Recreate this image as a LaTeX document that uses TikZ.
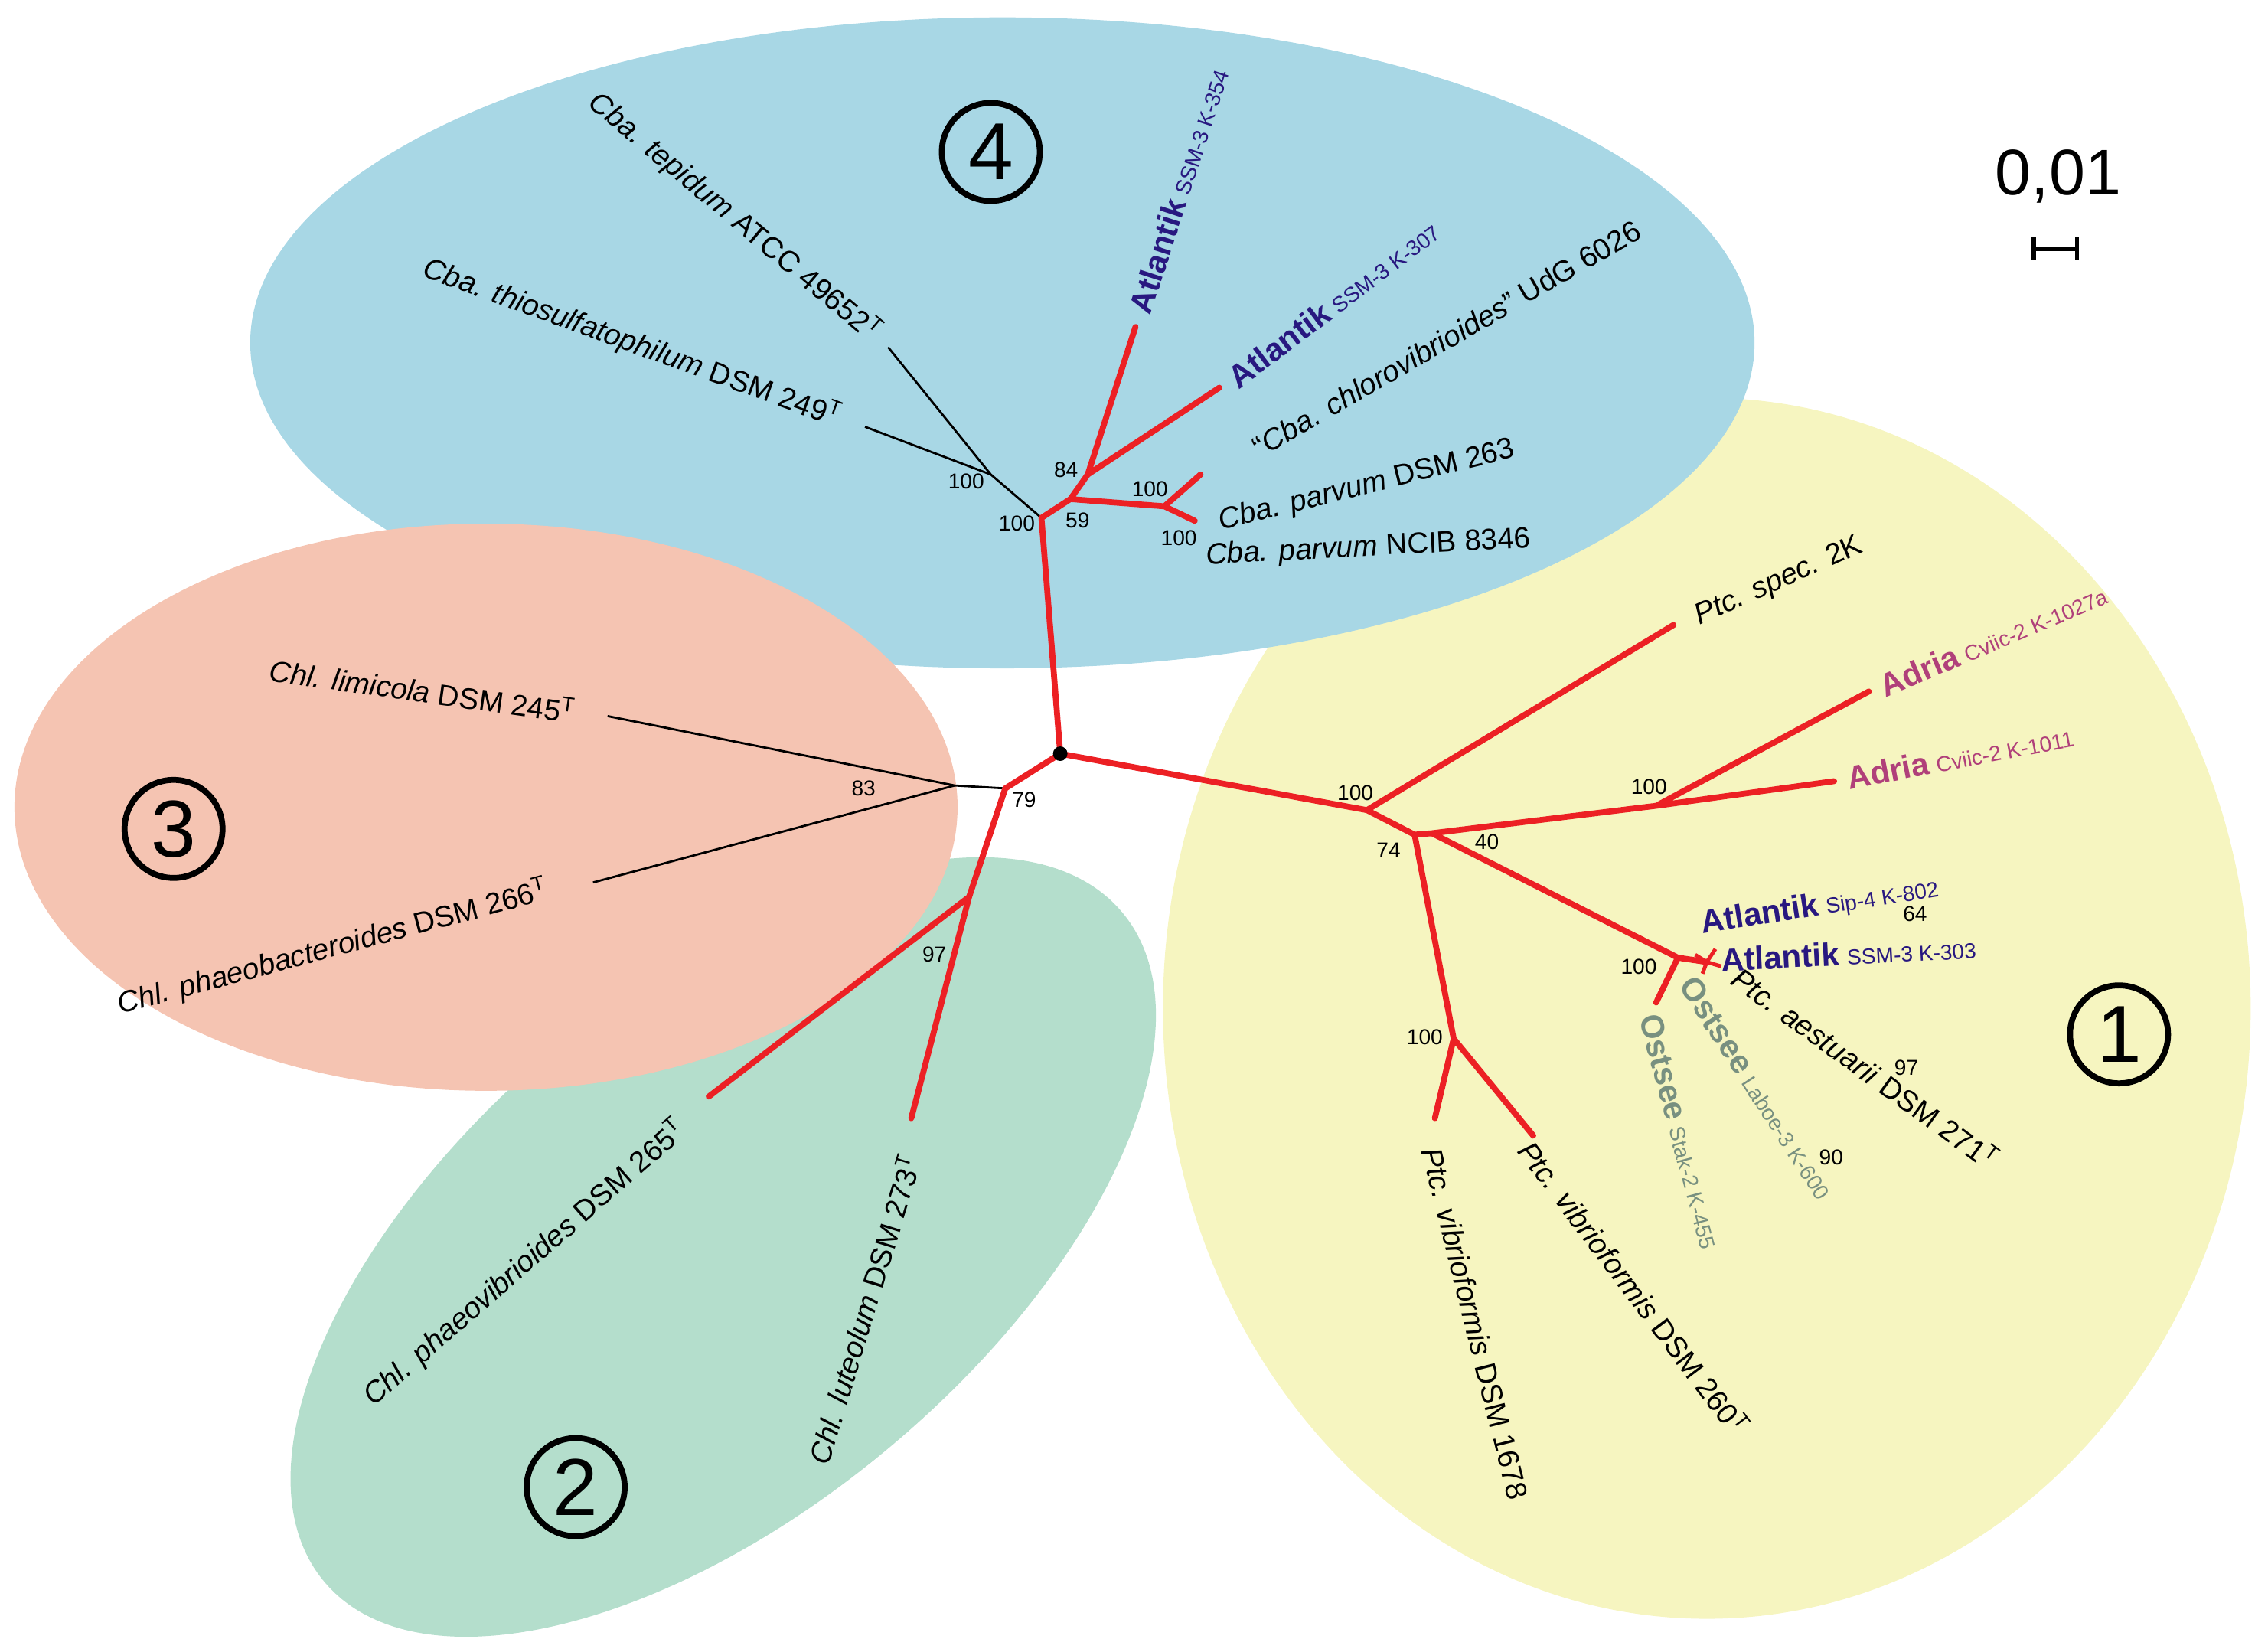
\documentclass[tikz,border=0pt]{standalone}
\usepackage{fontspec}
\setmainfont{Liberation Sans}
\definecolor{cblue}{RGB}{168,215,229}
\definecolor{cyel}{RGB}{246,245,192}
\definecolor{csal}{RGB}{245,196,178}
\definecolor{cgrn}{RGB}{180,222,204}
\definecolor{cred}{RGB}{236,32,36}
\definecolor{catl}{RGB}{40,24,128}
\definecolor{cadr}{RGB}{176,64,122}
\definecolor{cost}{RGB}{120,144,128}
\begin{document}
\begin{tikzpicture}[x=0.018897cm,y=-0.018897cm,
  red/.style={cred,line width=2.2pt},
  blk/.style={black,line width=0.8pt},
  lab/.style={font=\fontsize{11}{13}\selectfont,inner sep=0pt},
  bs/.style={font=\fontsize{8}{9}\selectfont,inner sep=0pt},
  ring/.style={draw,line width=2.2pt,circle,minimum size=1.28cm,inner sep=0pt,font=\fontsize{30}{32}\selectfont}]
\useasboundingbox (0,0) rectangle (1568,1132.5);
\fill[cyel] (1180,697) ellipse [x radius=376, y radius=422];
\fill[cblue] (693,237) ellipse [x radius=520, y radius=225];
\fill[cgrn,rotate around={40:(500,862)}] (500,862) ellipse [x radius=360, y radius=180];
\fill[csal] (336,558) ellipse [x radius=326, y radius=196];
% coordinates
\coordinate (root) at (733,521);
\coordinate (A) at (720,358);
\coordinate (P) at (740,345);
\coordinate (B) at (752,328);
\coordinate (C) at (805,350);
\coordinate (K) at (685,328);
\coordinate (tep) at (614,240);
\coordinate (thi) at (598,295);
\coordinate (at1) at (785,226);
\coordinate (at2) at (843,268);
\coordinate (pa1) at (830,328);
\coordinate (pa2) at (826,360);
\coordinate (L) at (695,545);
\coordinate (M) at (660,543);
\coordinate (lim) at (420,495);
\coordinate (pha) at (410,610);
\coordinate (N) at (670,620);
\coordinate (phv) at (490,758);
\coordinate (lut) at (630,773);
\coordinate (Q) at (945,560);
\coordinate (spc) at (1157,432);
\coordinate (R) at (978,577);
\coordinate (D) at (990,576);
\coordinate (S) at (1145,557);
\coordinate (ad1) at (1292,478);
\coordinate (ad2) at (1268,540);
\coordinate (E) at (1160,662);
\coordinate (F) at (1180,665);
\coordinate (os2) at (1145,693);
\coordinate (V) at (1005,718);
\coordinate (vi1) at (992,773);
\coordinate (vi2) at (1060,785);
% black branches
\draw[blk] (A)--(K) (K)--(tep) (K)--(thi) (L)--(M) (M)--(lim) (M)--(pha);
% red branches
\draw[red,line cap=round,line join=round] (root)--(A) (A)--(P) (P)--(B) (B)--(at1) (B)--(at2) (P)--(C) (C)--(pa1) (C)--(pa2)
 (root)--(L) (L)--(N) (N)--(phv) (N)--(lut)
 (root)--(Q) (Q)--(spc) (Q)--(R) (R)--(D) (D)--(S) (S)--(ad1) (S)--(ad2) (D)--(E) (E)--(F) (E)--(os2)
 (R)--(V) (V)--(vi1) (V)--(vi2);
\draw[cred,line width=1.4pt] (F)--(1186,656) (F)--(1190,668) (F)--(1177,673) (F)--(1172,660);
\fill (root) circle (5);
% bootstrap
\node[bs] (b1) at (668,333) {100};
\node[bs] (b2) at (703,362) {100};
\node[bs] (b3) at (745,360) {59};
\node[bs] (b4) at (737,325) {84};
\node[bs] (b5) at (795,338) {100};
\node[bs] (b6) at (815,372) {100};
\node[bs] (b7) at (597,545) {83};
\node[bs] (b8) at (708,553) {79};
\node[bs] (b9) at (646,660) {97};
\node[bs] (b10) at (937,548) {100};
\node[bs] (b11) at (960,588) {74};
\node[bs] (b12) at (1028,582) {40};
\node[bs] (b13) at (1140,544) {100};
\node[bs] (b14) at (1133,668) {100};
\node[bs] (b15) at (985,717) {100};
\node[bs] (b16) at (1324,632) {64};
\node[bs] (b17) at (1318,738) {97};
\node[bs] (b18) at (1266,800) {90};
% labels
\node[lab,rotate=-40] (l1) at (508,150) {\textit{Cba. tepidum} ATCC 49652\textsuperscript{T}};
\node[lab,rotate=-20] (l2) at (437,237) {\textit{Cba. thiosulfatophilum} DSM 249\textsuperscript{T}};
\node[inner sep=0pt,rotate=72] (l3) at (815,132) {\textcolor{catl}{\fontsize{12}{14}\selectfont\bfseries Atlantik} \textcolor{catl}{\fontsize{8}{9}\selectfont SSM-3 K-354}};
\node[inner sep=0pt,rotate=37] (l4) at (922,210) {\textcolor{catl}{\fontsize{12}{14}\selectfont\bfseries Atlantik} \textcolor{catl}{\fontsize{8}{9}\selectfont SSM-3 K-307}};
\node[lab,rotate=30] (l5) at (1000,234) {“\textit{Cba. chlorovibrioides}” UdG 6026};
\node[lab,rotate=14] (l6) at (945,336) {\textit{Cba. parvum} DSM 263};
\node[lab,rotate=3] (l7) at (946,379) {\textit{Cba. parvum} NCIB 8346};
\node[lab,rotate=-8] (l8) at (292,477) {\textit{Chl. limicola} DSM 245\textsuperscript{T}};
\node[lab,rotate=15] (l9) at (230,655) {\textit{Chl. phaeobacteroides} DSM 266\textsuperscript{T}};
\node[lab,rotate=41] (l10) at (363,873) {\textit{Chl. phaeovibrioides} DSM 265\textsuperscript{T}};
\node[lab,rotate=73] (l11) at (597,905) {\textit{Chl. luteolum} DSM 273\textsuperscript{T}};
\node[lab,rotate=24] (l12) at (1230,402) {\textit{Ptc. spec.} 2K};
\node[inner sep=0pt,rotate=23] (l13) at (1378,442) {\textcolor{cadr}{\fontsize{12}{14}\selectfont\bfseries Adria} \textcolor{cadr}{\fontsize{8}{9}\selectfont Cviic-2 K-1027a}};
\node[inner sep=0pt,rotate=11] (l14) at (1355,523) {\textcolor{cadr}{\fontsize{12}{14}\selectfont\bfseries Adria} \textcolor{cadr}{\fontsize{8}{9}\selectfont Cviic-2 K-1011}};
\node[inner sep=0pt,rotate=9] (l15) at (1258,626) {\textcolor{catl}{\fontsize{12}{14}\selectfont\bfseries Atlantik} \textcolor{catl}{\fontsize{8}{9}\selectfont Sip-4 K-802}};
\node[inner sep=0pt,rotate=3] (l16) at (1278,659) {\textcolor{catl}{\fontsize{12}{14}\selectfont\bfseries Atlantik} \textcolor{catl}{\fontsize{8}{9}\selectfont SSM-3 K-303}};
\node[lab,rotate=-36] (l17) at (1290,738) {\textit{Ptc. aestuarii} DSM 271\textsuperscript{T}};
\node[inner sep=0pt,rotate=-57] (l18) at (1215,752) {\textcolor{cost}{\fontsize{12}{14}\selectfont\bfseries Ostsee} \textcolor{cost}{\fontsize{8}{9}\selectfont Laboe-3 K-600}};
\node[inner sep=0pt,rotate=-75] (l19) at (1162,782) {\textcolor{cost}{\fontsize{12}{14}\selectfont\bfseries Ostsee} \textcolor{cost}{\fontsize{8}{9}\selectfont Stak-2 K-455}};
\node[lab,rotate=-76] (l20) at (1020,915) {\textit{Ptc. vibrioformis} DSM 1678};
\node[lab,rotate=-53] (l21) at (1130,890) {\textit{Ptc. vibrioformis} DSM 260\textsuperscript{T}};
% group numbers
\node[ring] (g4) at (685,105) {4};
\node[ring] (g3) at (120,573) {3};
\node[ring] (g2) at (398,1028) {2};
\node[ring] (g1) at (1465,715) {1};
% scale
\node[font=\fontsize{24}{26}\selectfont,inner sep=0pt] (sc) at (1423,122) {0,01};
\coordinate (s1) at (1406,172);
\coordinate (s2) at (1436,172);
\draw[line width=1.5pt] (s1)--(s2) (s1) ++(0,-8) -- ++(0,16) (s2) ++(0,-8) -- ++(0,16);
\end{tikzpicture}
\end{document}
